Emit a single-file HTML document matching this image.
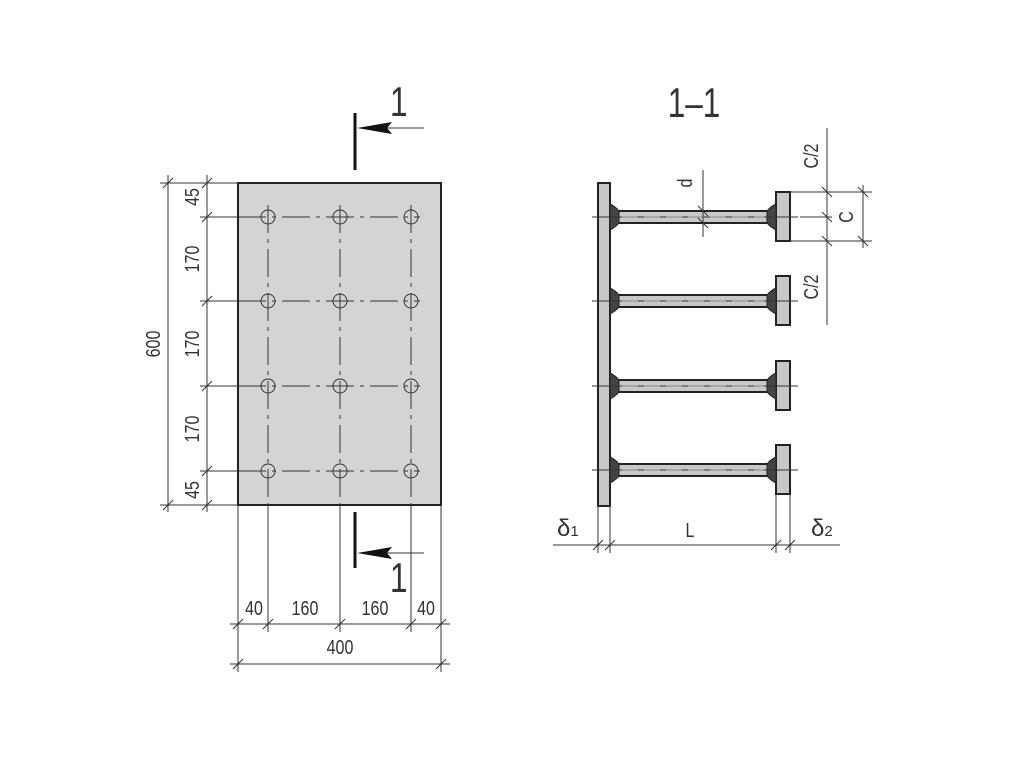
<!DOCTYPE html>
<html><head><meta charset="utf-8"><style>
html,body{margin:0;padding:0;background:#fff;}
svg text{font-family:"Liberation Sans Narrow","Liberation Sans",sans-serif;fill:#333;}
</style></head><body>
<svg width="1024" height="768" viewBox="0 0 1024 768" xmlns="http://www.w3.org/2000/svg">
<g stroke="#333" stroke-width="1" fill="none">
<rect x="238" y="183" width="203" height="322" fill="#d4d4d4" stroke="#222" stroke-width="2"/>
<g stroke-dasharray="28,6,4,6">
<line x1="268" y1="205" x2="268" y2="505"/><line x1="340" y1="205" x2="340" y2="505"/><line x1="411" y1="205" x2="411" y2="505"/>
<line x1="238" y1="217" x2="420" y2="217"/><line x1="238" y1="301" x2="420" y2="301"/><line x1="238" y1="386" x2="420" y2="386"/><line x1="238" y1="471" x2="420" y2="471"/>
</g>
<line x1="268" y1="505" x2="268" y2="632"/><line x1="340" y1="505" x2="340" y2="632"/><line x1="411" y1="505" x2="411" y2="632"/>
<line x1="200" y1="217" x2="238" y2="217"/><line x1="200" y1="301" x2="238" y2="301"/><line x1="200" y1="386" x2="238" y2="386"/><line x1="200" y1="471" x2="238" y2="471"/>
<g>
<circle cx="268" cy="217" r="7"/><circle cx="340" cy="217" r="7"/><circle cx="411" cy="217" r="7"/>
<circle cx="268" cy="301" r="7"/><circle cx="340" cy="301" r="7"/><circle cx="411" cy="301" r="7"/>
<circle cx="268" cy="386" r="7"/><circle cx="340" cy="386" r="7"/><circle cx="411" cy="386" r="7"/>
<circle cx="268" cy="471" r="7"/><circle cx="340" cy="471" r="7"/><circle cx="411" cy="471" r="7"/>
</g>
<line x1="168" y1="175" x2="168" y2="512"/><line x1="207" y1="175" x2="207" y2="512"/>
<line x1="160" y1="183" x2="238" y2="183"/><line x1="160" y1="505" x2="238" y2="505"/>
<path d="M163 188 L173 178 M202 188 L212 178 M202 222 L212 212 M202 306 L212 296 M202 391 L212 381 M202 476 L212 466 M163 510 L173 500 M202 510 L212 500"/>
<line x1="238" y1="505" x2="238" y2="672"/><line x1="441" y1="505" x2="441" y2="672"/>
<line x1="230" y1="624" x2="450" y2="624"/><line x1="230" y1="664" x2="450" y2="664"/>
<path d="M233 629 L243 619 M263 629 L273 619 M335 629 L345 619 M406 629 L416 619 M436 629 L446 619 M233 669 L243 659 M436 669 L446 659"/>
<line x1="355" y1="113" x2="355" y2="170" stroke="#111" stroke-width="3"/>
<line x1="380" y1="128" x2="424" y2="128"/>
<path d="M357 128 L392 122 L387 128 L392 134 Z" fill="#111" stroke="none"/>
<line x1="355" y1="512" x2="355" y2="568" stroke="#111" stroke-width="3"/>
<line x1="380" y1="553" x2="424" y2="553"/>
<path d="M357 553 L392 547 L387 553 L392 559 Z" fill="#111" stroke="none"/>
</g>
<text transform="translate(390,116) scale(0.75,1)" font-size="42">1</text>
<text transform="translate(390,592) scale(0.75,1)" font-size="42">1</text>
<g font-size="20">
<text transform="translate(199,197) rotate(-90) scale(0.8,1)" text-anchor="middle">45</text>
<text transform="translate(199,259) rotate(-90) scale(0.8,1)" text-anchor="middle">170</text>
<text transform="translate(199,344) rotate(-90) scale(0.8,1)" text-anchor="middle">170</text>
<text transform="translate(199,429) rotate(-90) scale(0.8,1)" text-anchor="middle">170</text>
<text transform="translate(199,490) rotate(-90) scale(0.8,1)" text-anchor="middle">45</text>
<text transform="translate(160,344) rotate(-90) scale(0.8,1)" text-anchor="middle">600</text>
<text transform="translate(254,615) scale(0.8,1)" text-anchor="middle">40</text>
<text transform="translate(305,615) scale(0.8,1)" text-anchor="middle">160</text>
<text transform="translate(375,615) scale(0.8,1)" text-anchor="middle">160</text>
<text transform="translate(426,615) scale(0.8,1)" text-anchor="middle">40</text>
<text transform="translate(340,654) scale(0.8,1)" text-anchor="middle">400</text>
</g>
<text transform="translate(694,117) scale(0.75,1)" font-size="42" text-anchor="middle">1–1</text>
<g stroke="#333" stroke-width="1" fill="none">
<rect x="598" y="183" width="12" height="323" fill="#c8c8c8" stroke="#222" stroke-width="2"/>
<g id="r">
<rect x="610" y="211" width="166" height="12" fill="#c8c8c8" stroke="#222" stroke-width="2"/>
<rect x="776" y="192" width="14" height="49" fill="#c8c8c8" stroke="#222" stroke-width="2"/>
<path d="M610 204 Q616 207 619 211 L619 223 Q616 227 610 230 Z" fill="#444" stroke="#222"/>
<path d="M776 204 Q770 207 767 211 L767 223 Q770 227 776 230 Z" fill="#444" stroke="#222"/>
<line x1="592" y1="217" x2="798" y2="217" stroke="#333"/>
<line x1="622" y1="217" x2="764" y2="217" stroke="#888" stroke-dasharray="16,6"/>
</g>
<use href="#r" transform="translate(0,84)"/>
<use href="#r" transform="translate(0,169)"/>
<use href="#r" transform="translate(0,253)"/>
<line x1="703" y1="170" x2="703" y2="237"/>
<path d="M698 206 L708 216 M698 218 L708 228"/>
<line x1="790" y1="192" x2="872" y2="192"/><line x1="790" y1="241" x2="872" y2="241"/>
<line x1="800" y1="217" x2="832" y2="217"/>
<line x1="827" y1="128" x2="827" y2="325"/><line x1="863" y1="185" x2="863" y2="248"/>
<path d="M822 187 L832 197 M822 212 L832 222 M822 236 L832 246 M858 187 L868 197 M858 236 L868 246"/>
<line x1="598" y1="506" x2="598" y2="553"/><line x1="610" y1="506" x2="610" y2="553"/>
<line x1="776" y1="495" x2="776" y2="553"/><line x1="790" y1="495" x2="790" y2="553"/>
<line x1="553" y1="545" x2="840" y2="545"/>
<path d="M593 550 L603 540 M605 550 L615 540 M771 550 L781 540 M785 550 L795 540"/>
</g>
<g font-size="20">
<text transform="translate(692,183) rotate(-90) scale(0.8,1)" text-anchor="middle">d</text>
<text transform="translate(818,156) rotate(-90) scale(0.8,1)" text-anchor="middle">C/2</text>
<text transform="translate(818,287) rotate(-90) scale(0.8,1)" text-anchor="middle">C/2</text>
<text transform="translate(853,217) rotate(-90) scale(0.8,1)" text-anchor="middle">C</text>
<text transform="translate(690,537) scale(0.8,1)" text-anchor="middle">L</text>
</g>
<text x="557" y="536" font-size="24" font-family="Liberation Serif, serif">δ<tspan font-size="15">1</tspan></text>
<text x="811" y="536" font-size="24" font-family="Liberation Serif, serif">δ<tspan font-size="15">2</tspan></text>
</svg>
</body></html>
